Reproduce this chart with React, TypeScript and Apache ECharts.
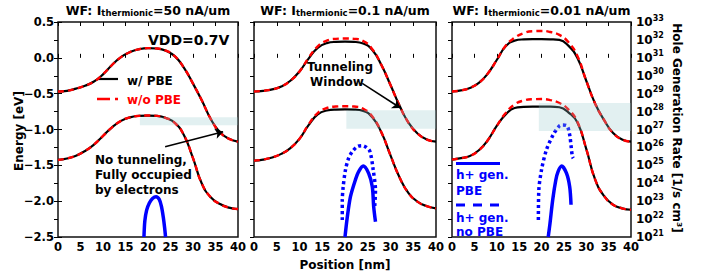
import React, { useEffect, useRef } from 'react';
import * as echarts from 'echarts';

const FONT = 'DejaVu Sans';

// Position grid [nm]
const positionNm = [0, 2, 4, 6, 8, 10, 12, 14, 16, 18, 20, 22, 24, 26, 28, 30, 32, 34, 36, 38, 40];
const xTickStep = 5;
const energyTicks = { min: -2.5, max: 0.5, step: 0.5 };
const rateExpTicks = { min: 21, max: 33, step: 1 };

const thermionicCurrents = ['50', '0.1', '0.01'];

// Panel 1: I_thermionic = 50 nA/um
const p1UpperPBE = [-0.47, -0.46, -0.43, -0.39, -0.33, -0.23, -0.10, 0.01, 0.08, 0.12, 0.135, 0.13, 0.10, 0.02, -0.14, -0.36, -0.60, -0.86, -1.04, -1.13, -1.17];
const p1UpperNoPBE = [-0.47, -0.46, -0.43, -0.39, -0.33, -0.23, -0.10, 0.01, 0.08, 0.12, 0.135, 0.13, 0.10, 0.02, -0.14, -0.36, -0.60, -0.86, -1.04, -1.13, -1.17];
const p1LowerPBE = [-1.425, -1.405, -1.365, -1.30, -1.21, -1.09, -0.97, -0.88, -0.83, -0.81, -0.805, -0.81, -0.84, -0.91, -1.08, -1.40, -1.76, -1.95, -2.04, -2.09, -2.11];
const p1LowerNoPBE = [-1.425, -1.405, -1.365, -1.30, -1.21, -1.09, -0.97, -0.88, -0.83, -0.81, -0.805, -0.81, -0.84, -0.91, -1.08, -1.40, -1.76, -1.95, -2.04, -2.09, -2.11];

// Panel 2: I_thermionic = 0.1 nA/um
const p2UpperPBE = [-0.47, -0.46, -0.44, -0.40, -0.32, -0.19, -0.01, 0.14, 0.205, 0.222, 0.225, 0.222, 0.20, 0.11, -0.10, -0.38, -0.67, -0.91, -1.06, -1.14, -1.17];
const p2UpperNoPBE = [-0.47, -0.46, -0.44, -0.40, -0.32, -0.19, 0.00, 0.16, 0.24, 0.265, 0.27, 0.265, 0.235, 0.12, -0.10, -0.38, -0.67, -0.91, -1.06, -1.14, -1.17];
const p2LowerPBE = [-1.435, -1.42, -1.39, -1.34, -1.26, -1.13, -0.94, -0.79, -0.735, -0.722, -0.72, -0.722, -0.74, -0.83, -1.04, -1.36, -1.67, -1.89, -2.01, -2.07, -2.10];
const p2LowerNoPBE = [-1.435, -1.42, -1.39, -1.34, -1.26, -1.13, -0.93, -0.77, -0.70, -0.68, -0.675, -0.68, -0.71, -0.82, -1.04, -1.36, -1.67, -1.89, -2.01, -2.07, -2.10];

// Panel 3: I_thermionic = 0.01 nA/um
const p3UpperPBE = [-0.47, -0.455, -0.42, -0.35, -0.22, -0.03, 0.16, 0.24, 0.257, 0.26, 0.26, 0.258, 0.25, 0.17, 0.00, -0.32, -0.64, -0.87, -1.05, -1.14, -1.17];
const p3UpperNoPBE = [-0.47, -0.455, -0.42, -0.35, -0.22, -0.03, 0.17, 0.28, 0.345, 0.372, 0.375, 0.36, 0.32, 0.22, 0.03, -0.32, -0.64, -0.87, -1.05, -1.14, -1.17];
const p3LowerPBE = [-1.42, -1.40, -1.37, -1.29, -1.15, -0.95, -0.79, -0.70, -0.685, -0.68, -0.68, -0.68, -0.69, -0.76, -0.90, -1.27, -1.70, -1.93, -2.05, -2.10, -2.12];
const p3LowerNoPBE = [-1.42, -1.40, -1.37, -1.29, -1.15, -0.95, -0.77, -0.65, -0.595, -0.577, -0.575, -0.59, -0.63, -0.72, -0.89, -1.27, -1.70, -1.93, -2.05, -2.10, -2.12];

// Hole generation rate: [position nm, log10(rate in 1/s cm^3)]
const p1GenPBE = [[19.1, 21.0], [19.3, 21.9], [19.7, 22.5], [20.3, 22.9], [21.0, 23.15], [21.8, 23.25], [22.5, 23.1], [23.0, 22.7], [23.4, 22.1], [23.7, 21.5], [23.9, 21.0]];
const p2GenPBE = [[20.0, 21.0], [20.5, 22.1], [21.2, 23.25], [22.3, 24.2], [23.0, 24.65], [24.0, 24.96], [25.2, 24.55], [26.0, 23.8], [26.3, 22.7], [26.7, 21.85]];
const p2GenNoPBE = [[19.4, 21.95], [19.4, 23.0], [19.6, 23.8], [20.1, 24.74], [20.8, 25.4], [21.6, 25.76], [22.7, 26.05], [23.8, 26.1], [24.7, 26.0], [25.5, 25.76], [26.2, 24.74], [26.7, 23.6], [26.5, 22.6]];
const p3GenPBE = [[21.5, 21.0], [21.9, 21.76], [22.5, 23.07], [23.2, 24.18], [23.7, 24.65], [24.5, 24.96], [25.6, 24.55], [26.3, 23.8], [26.6, 22.8]];
const p3GenNoPBE = [[19.3, 21.95], [19.4, 23.6], [20.0, 24.74], [21.1, 25.86], [22.6, 26.7], [24.0, 27.2], [24.6, 27.25], [25.7, 27.2], [26.3, 26.7], [26.6, 26.1], [26.9, 25.5], [27.1, 25.4]];

// Tunneling windows: [x0, E0, x1, E1]
const tunnelWindows = [
  [18.2, -0.83, 40, -0.94],
  [20.3, -0.73, 40, -0.99],
  [19.4, -0.63, 40, -1.02],
];

// Arrows: [xStart, eStart, xEnd, eEnd]
const p1Arrow = [23.8, -1.24, 36.7, -1.03];
const p2Arrow = [23.8, -0.355, 32.2, -0.70];

const grids = [
  { left: 58, top: 22, width: 180, height: 215 },
  { left: 254, top: 22, width: 182, height: 215 },
  { left: 452, top: 22, width: 179, height: 215 },
];

const bands = [
  [p1UpperPBE, p1UpperNoPBE, p1LowerPBE, p1LowerNoPBE],
  [p2UpperPBE, p2UpperNoPBE, p2LowerPBE, p2LowerNoPBE],
  [p3UpperPBE, p3UpperNoPBE, p3LowerPBE, p3LowerNoPBE],
];
const gens: number[][][][] = [
  [p1GenPBE],
  [p2GenPBE, p2GenNoPBE],
  [p3GenPBE, p3GenNoPBE],
];

const pairs = (ys: number[]) => positionNm.map((x, i) => [x, ys[i]]);
const fmtE = (v: number) => (v < 0 ? '\u2212' : '') + Math.abs(v).toFixed(1);

function buildOption() {
  const xAxis: any[] = [];
  const yAxis: any[] = [];
  const series: any[] = [];
  const tickStyle = { color: '#000', width: 1 };
  const labelBase = { color: '#000', fontFamily: FONT, fontWeight: 'bold', fontSize: 11.5 };

  grids.forEach((_, i) => {
    xAxis.push({
      type: 'value', gridIndex: i, position: 'bottom', min: 0, max: 40, interval: xTickStep,
      axisLine: { show: false }, splitLine: { show: false },
      axisTick: { show: true, inside: true, length: 4, lineStyle: tickStyle },
      axisLabel: { ...labelBase, margin: 4 },
    });
    xAxis.push({
      type: 'value', gridIndex: i, position: 'top', min: 0, max: 40, interval: xTickStep,
      axisLine: { show: false }, splitLine: { show: false },
      axisTick: { show: true, inside: true, length: 4, lineStyle: tickStyle },
      axisLabel: { show: false },
    });
    yAxis.push({
      type: 'value', gridIndex: i, position: 'left', min: energyTicks.min, max: energyTicks.max, interval: energyTicks.step,
      axisLine: { show: false }, splitLine: { show: false },
      axisTick: { show: i === 0, inside: true, length: 4, lineStyle: tickStyle },
      axisLabel: { show: i === 0, ...labelBase, margin: 4, formatter: fmtE },
    });
    yAxis.push({
      type: 'value', gridIndex: i, position: 'right', min: rateExpTicks.min, max: rateExpTicks.max, interval: rateExpTicks.step,
      axisLine: { show: false }, splitLine: { show: false },
      axisTick: { show: true, inside: true, length: 4, lineStyle: tickStyle },
      axisLabel: {
        show: i === 2, margin: 5,
        formatter: (v: number) => `{b|10}{s|${v}}`,
        rich: {
          b: { ...labelBase, fontSize: 12, lineHeight: 16 },
          s: { ...labelBase, fontSize: 8, lineHeight: 8, verticalAlign: 'top' },
        },
      },
    });

    const [up, upNo, lo, loNo] = bands[i];
    const solid = { color: '#000', width: 2.2 };
    const dashed = { color: '#ff0000', width: 2.4, type: [6, 4] };
    const arrow = i === 0 ? p1Arrow : i === 1 ? p2Arrow : null;
    [[up, solid, 2], [upNo, dashed, 3], [lo, solid, 2], [loNo, dashed, 3]].forEach(([ys, ls, z]: any, k) => {
      const s: any = {
        type: 'line', xAxisIndex: 2 * i, yAxisIndex: 2 * i, data: pairs(ys),
        symbol: 'none', smooth: 0.5, silent: true, lineStyle: ls, z,
      };
      if (k === 0 && arrow) {
        s.markLine = {
          silent: true, symbol: ['none', 'arrow'], symbolSize: 8, z: 12,
          label: { show: false },
          lineStyle: { color: '#000', width: 1.5, type: 'solid' },
          data: [[{ coord: [arrow[0], arrow[1]] }, { coord: [arrow[2], arrow[3]] }]],
        };
      }
      series.push(s);
    });

    gens[i].forEach((pts, k) => {
      series.push({
        type: 'line', xAxisIndex: 2 * i, yAxisIndex: 2 * i + 1, data: pts,
        symbol: 'none', smooth: 0.3, silent: true, z: 4,
        lineStyle: { color: '#0000ff', width: 3.5, type: k === 0 ? 'solid' : [3, 3] },
      });
    });

    series.push({
      type: 'custom', xAxisIndex: 2 * i, yAxisIndex: 2 * i, silent: true, z: 10,
      data: [tunnelWindows[i]],
      renderItem: (_p: any, api: any) => {
        const a = api.coord([api.value(0), api.value(1)]);
        const b = api.coord([api.value(2), api.value(3)]);
        return {
          type: 'rect',
          shape: { x: a[0], y: a[1], width: b[0] - a[0], height: b[1] - a[1] },
          style: { fill: 'rgba(150,200,205,0.28)' },
        };
      },
    });
  });

  const txt = (text: string, x: number, y: number, o: any = {}) => ({
    type: 'text', x, y, silent: true, rotation: o.rotation || 0,
    style: {
      text, fill: o.fill || '#000', fontFamily: FONT, fontWeight: 'bold', fontSize: o.fontSize || 12,
      align: o.align || 'left', textAlign: o.align || 'left',
      verticalAlign: 'middle', textVerticalAlign: 'middle',
    },
  });

  const graphic: any[] = [];
  grids.forEach((g, i) => {
    graphic.push({
      type: 'text', x: g.left + g.width / 2, y: 10, silent: true,
      style: {
        text: `{m|WF: I}{s|thermionic}{m|=${thermionicCurrents[i]} nA/um}`,
        align: 'center', textAlign: 'center', verticalAlign: 'middle', textVerticalAlign: 'middle',
        rich: {
          m: { fill: '#000', fontFamily: FONT, fontWeight: 'bold', fontSize: 12.5, lineHeight: 15 },
          s: { fill: '#000', fontFamily: FONT, fontWeight: 'bold', fontSize: 8.5, lineHeight: 9, verticalAlign: 'bottom' },
        },
      },
    });
  });
  graphic.push(txt('VDD=0.7V', 148, 40, { fontSize: 14 }));
  graphic.push({ type: 'line', silent: true, shape: { x1: 97, y1: 79, x2: 118, y2: 79 }, style: { stroke: '#000', lineWidth: 2.2 } });
  graphic.push(txt('w/ PBE', 127, 81));
  graphic.push({ type: 'line', silent: true, shape: { x1: 97, y1: 99, x2: 118, y2: 99 }, style: { stroke: '#ff0000', lineWidth: 2.5, lineDash: [13, 5] } });
  graphic.push(txt('w/o PBE', 127, 100, { fill: '#ff0000' }));
  graphic.push(txt('No tunneling,', 95, 160));
  graphic.push(txt('Fully occupied', 95, 175));
  graphic.push(txt('by electrons', 95, 189.5));
  graphic.push(txt('Tunneling', 340, 67, { align: 'center' }));
  graphic.push(txt('Window', 337, 82, { align: 'center' }));
  graphic.push({ type: 'line', silent: true, shape: { x1: 456, y1: 163.5, x2: 500, y2: 163.5 }, style: { stroke: '#0000ff', lineWidth: 3 } });
  graphic.push(txt('h+ gen.', 456, 175, { fill: '#0000ff' }));
  graphic.push(txt('PBE', 456, 190.5, { fill: '#0000ff' }));
  graphic.push({ type: 'line', silent: true, shape: { x1: 456, y1: 205, x2: 500, y2: 205 }, style: { stroke: '#0000ff', lineWidth: 3, lineDash: [9, 8] } });
  graphic.push(txt('h+ gen.', 456, 218, { fill: '#0000ff' }));
  graphic.push(txt('no PBE', 456, 232, { fill: '#0000ff' }));
  graphic.push(txt('Energy [eV]', 19, 131, { align: 'center', rotation: Math.PI / 2, fontSize: 12 }));
  graphic.push(txt('Hole Generation Rate [1/s cm\u00b3]', 677, 128, { align: 'center', rotation: -Math.PI / 2, fontSize: 12 }));
  graphic.push(txt('Position [nm]', 345, 265, { align: 'center', fontSize: 12 }));

  return {
    animation: false,
    backgroundColor: '#fff',
    grid: grids.map((g) => ({ ...g, show: true, borderColor: '#111', borderWidth: 1.5, backgroundColor: 'transparent' })),
    xAxis, yAxis, series, graphic,
  };
}

export default function App() {
  const ref = useRef<HTMLDivElement>(null);
  useEffect(() => {
    const chart = echarts.init(ref.current!, null, { renderer: 'svg' });
    chart.setOption(buildOption() as any);
    return () => chart.dispose();
  }, []);
  return <div ref={ref} style={{ position: 'fixed', left: 0, top: 0, width: 710, height: 280, background: '#fff' }} />;
}
